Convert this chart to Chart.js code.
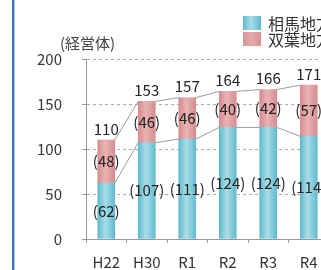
<!DOCTYPE html>
<html>
<head>
<meta charset="utf-8">
<script src="https://cdn.jsdelivr.net/npm/chart.js@4"></script>
<style>
  html, body { margin: 0; padding: 0; background: #fff; overflow: hidden; }
  #wrap { position: relative; width: 321px; height: 270px; overflow: hidden; }
  #edge { position: absolute; left: 12px; top: 0; width: 2px; height: 270px; background: #3f74b0; border-right: 1px solid #a9c4e4; }
  canvas { position: absolute; left: 0; top: 0; }
</style>
</head>
<body>
<div id="wrap">
  <canvas id="graf" width="340" height="270"></canvas>
  <div id="edge"></div>
</div>
<script>
const godine = ['H22', 'H30', 'R1', 'R2', 'R3', 'R4'];
const soma = [62, 107, 111, 124, 124, 114];
const futaba = [48, 46, 46, 40, 42, 57];
const ukupno = [110, 153, 157, 164, 166, 171];
const yTicks = [0, 50, 100, 150, 200];

const FONT = '"Noto Sans CJK JP", "Noto Sans", sans-serif';
const SIRINA = 17;

// gradijent preko stupca
function punjenje(svijetla, tamna) {
    return function(c) {
        const chart = c.chart;
        const x = chart.scales && chart.scales.x;
        if (!chart.chartArea || !x || c.dataIndex === undefined) return tamna;
        const cx = x.getPixelForValue(c.dataIndex);
        const g = chart.ctx.createLinearGradient(cx - SIRINA / 2, 0, cx + SIRINA / 2, 0);
        g.addColorStop(0, tamna);
        g.addColorStop(0.45, svijetla);
        g.addColorStop(1, tamna);
        return g;
    };
}

const dodaci = {
    id: 'dodaci',
    afterDatasetsDraw(chart) {
        const ctx = chart.ctx;
        const plavi = chart.getDatasetMeta(0).data;
        const rozi = chart.getDatasetMeta(1).data;

        // linije izmedju stupaca
        ctx.save();
        ctx.strokeStyle = '#9a9a9a';
        ctx.lineWidth = 1;
        [plavi, rozi].forEach(el => {
            for (let i = 0; i < el.length - 1; i++) {
                ctx.beginPath();
                ctx.moveTo(el[i].x + el[i].width / 2, el[i].y);
                ctx.lineTo(el[i + 1].x - el[i + 1].width / 2, el[i + 1].y);
                ctx.stroke();
            }
        });

        // oznake
        ctx.font = '15px ' + FONT;
        ctx.fillStyle = '#222';
        ctx.textAlign = 'center';
        ctx.textBaseline = 'middle';
        for (let i = 0; i < godine.length; i++) {
            const b = plavi[i], r = rozi[i];
            ctx.fillText('(' + soma[i] + ')', b.x, (b.y + b.base) / 2);
            ctx.fillText('(' + futaba[i] + ')', r.x, (r.y + r.base) / 2);
            ctx.fillText(String(ukupno[i]), r.x, r.y - 11);
        }

        // naslov osi
        ctx.font = '15px ' + FONT;
        ctx.fillStyle = '#444';
        ctx.textAlign = 'left';
        ctx.fillText('(経営体)', 60, 43);

        // legenda
        const leg = [
            { tekst: chart.data.datasets[0].label, y: 23, svijetla: '#a9dde8', tamna: '#5fbbce' },
            { tekst: chart.data.datasets[1].label, y: 39, svijetla: '#e3a9aa', tamna: '#d99396' }
        ];
        leg.forEach(l => {
            const g = ctx.createLinearGradient(243, 0, 261, 0);
            g.addColorStop(0, l.tamna);
            g.addColorStop(0.45, l.svijetla);
            g.addColorStop(1, l.tamna);
            ctx.fillStyle = g;
            ctx.fillRect(243, l.y - 7, 18, 14);
            ctx.fillStyle = '#333';
            ctx.font = '16px ' + FONT;
            ctx.fillText(l.tekst, 268, l.y + 0.5);
        });
        ctx.restore();
    }
};

new Chart(document.getElementById('graf'), {
    type: 'bar',
    data: {
        labels: godine,
        datasets: [{
            label: '相馬地方',
            data: soma,
            backgroundColor: punjenje('#a9dde8', '#5fbbce'),
            barThickness: SIRINA
        }, {
            label: '双葉地方',
            data: futaba,
            backgroundColor: punjenje('#eab3b4', '#d68c90'),
            barThickness: SIRINA
        }]
    },
    options: {
        responsive: false,
        animation: false,
        layout: { padding: { top: 59, right: 11, left: 0, bottom: 0 } },
        plugins: { legend: { display: false }, tooltip: { enabled: false } },
        scales: {
            x: {
                stacked: true,
                afterFit(s) { s.height = 31; },
                grid: { drawOnChartArea: false, drawTicks: true, tickLength: 4, tickColor: '#999', offset: true },
                border: { color: '#999', width: 1 },
                ticks: { color: '#333', padding: 10, font: { family: FONT, size: 15 } }
            },
            y: {
                stacked: true,
                min: 0,
                max: 200,
                afterFit(s) { s.width = 86; },
                afterBuildTicks(s) { s.ticks = yTicks.map(v => ({ value: v })); },
                grid: {
                    color: c => (c.tick && c.tick.value === 0) ? 'rgba(0,0,0,0)' : '#aaa',
                    tickColor: '#999',
                    tickLength: 4,
                    tickBorderDash: []
                },
                border: { color: '#999', width: 1, dash: [3, 3] },
                ticks: { color: '#333', padding: 20, font: { family: FONT, size: 15 } }
            }
        }
    },
    plugins: [dodaci]
});
</script>
</body>
</html>
